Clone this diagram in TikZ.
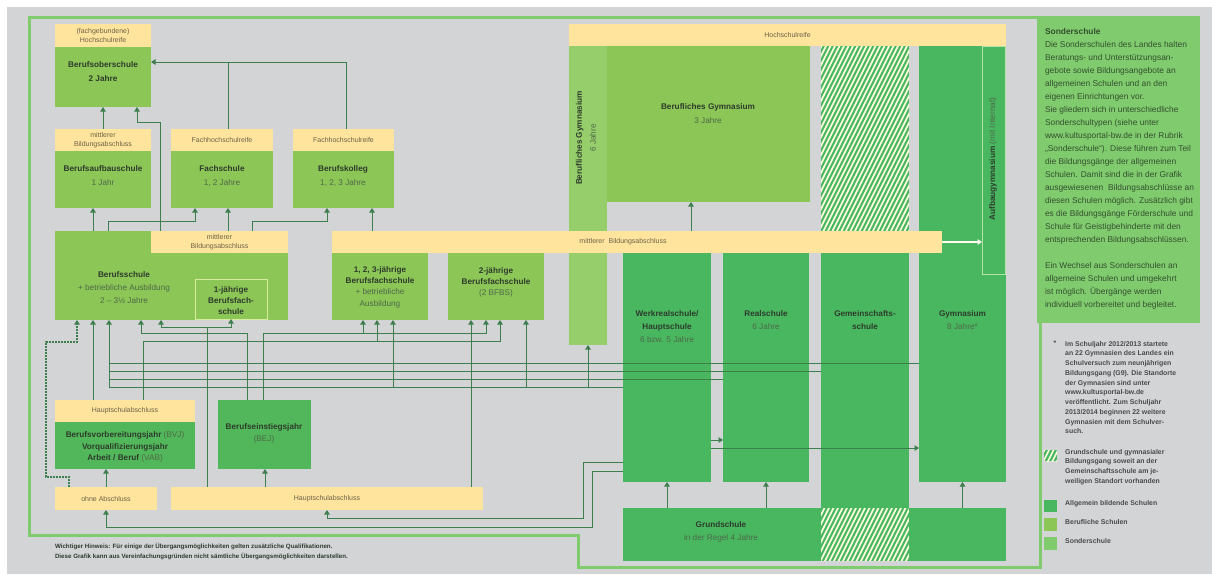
\documentclass[tikz,border=0pt]{standalone}
\usepackage{fontspec}
\setmainfont{Liberation Sans}
\usetikzlibrary{arrows.meta}

\definecolor{allg}{HTML}{48B760}
\definecolor{beruf}{HTML}{8CC657}
\definecolor{bgym}{HTML}{96CE6B}
\definecolor{sonder}{HTML}{80CB6E}
\definecolor{vorb}{HTML}{52B75A}
\definecolor{gelb}{HTML}{FEE49C}
\definecolor{hgrau}{HTML}{D3D4D6}
\definecolor{pfeil}{HTML}{3F7F4F}
\definecolor{rahmen}{HTML}{D7EC9E}
\definecolor{rahmenb}{HTML}{B5E3A5}
\definecolor{txtdark}{HTML}{2E3B2C}
\definecolor{txtsoft}{HTML}{4F6849}
\definecolor{txtlab}{HTML}{6E6249}
\definecolor{txtgrau}{HTML}{4A4A4A}
\definecolor{sotext}{HTML}{34502F}

\newcommand{\weich}[1]{{\mdseries\color{txtsoft}#1}}

\tikzset{
  kasten/.style={inner sep=0pt, outer sep=0pt, anchor=north west},
  bkasten/.style={kasten, fill=beruf},
  akasten/.style={kasten, fill=allg},
  kopf/.style={kasten, fill=gelb, text=txtlab, align=center, font=\fontsize{7}{8.5}\selectfont},
  titel/.style={inner sep=0pt, align=center, text=txtdark, font=\bfseries\fontsize{8.2}{13}\selectfont},
  eng/.style={font=\bfseries\fontsize{8.2}{11.3}\selectfont},
  weit/.style={font=\bfseries\fontsize{8.2}{14}\selectfont},
  legende/.style={inner sep=0pt, align=left, text=txtgrau, font=\bfseries\fontsize{6.9}{9.75}\selectfont},
  verb/.style={draw=pfeil, line width=0.9pt},
  punkt/.style={verb, line width=1.7pt, dash pattern=on 1.7pt off 1.3pt},
  weiss/.style={draw=white!85!gelb, line width=1.2pt},
  streifen/.style={draw=white!88!yellow, line width=1.6pt},
}

\begin{document}
\begin{tikzpicture}[x=1pt,y=-1pt,>={Triangle[length=4.5pt,width=5.5pt]}]

\useasboundingbox (0,0) rectangle (1212,574);
\fill[white] (0,0) rectangle (1212,574);
\fill[hgrau] (7,7) rectangle (1212,574);

% Rahmen und Sonderschule
\draw[sonder,line width=3pt] (1040,323) -- (1040,567) -- (578,567) -- (578,535) -- (29,535) -- (29,17) -- (1038,17);
\node[kasten,fill=sonder,minimum width=163,minimum height=307] (sonder) at (1037,16) {};
\node[kasten,align=left,text=sotext,font=\fontsize{8.4}{13}\selectfont] (sondertext) at (1045,28) {\textbf{Sonderschule}\\
Die Sonderschulen des Landes halten\\
Beratungs- und Unterstützungsan-\\
gebote sowie Bildungsangebote an\\
allgemeinen Schulen und an den\\
eigenen Einrichtungen vor.\\
Sie gliedern sich in unterschiedliche\\
Sonderschultypen (siehe unter\\
www.kultusportal-bw.de in der Rubrik\\
„Sonderschule“). Diese führen zum Teil\\
die Bildungsgänge der allgemeinen\\
Schulen. Damit sind die in der Grafik\\
ausgewiesenen\ \ Bildungsabschlüsse an\\
diesen Schulen möglich. Zusätzlich gibt\\
es die Bildungsgänge Förderschule und\\
Schule für Geistigbehinderte mit den\\
entsprechenden Bildungsabschlüssen.\\[13pt]
Ein Wechsel aus Sonderschulen an\\
allgemeine Schulen und umgekehrt\\
ist möglich. Übergänge werden\\
individuell vorbereitet und begleitet.};

% berufliche Schulen links oben
\node[kopf,minimum width=96,minimum height=23] (bosk) at (55,24) {(fachgebundene)\\Hochschulreife};
\node[bkasten,minimum width=96,minimum height=60] (bos) at (55,47) {};
\node[titel,weit] at (103,72) {Berufsoberschule\\2 Jahre};

\node[kopf,minimum width=96,minimum height=22] (bask) at (55,129) {mittlerer\\Bildungsabschluss};
\node[bkasten,minimum width=96,minimum height=57] (bas) at (55,151) {};
\node[titel,weit] at (103,176) {Berufsaufbauschule\\\weich{1 Jahr}};

\node[kopf,minimum width=102,minimum height=22] (fsk) at (171,129) {Fachhochschulreife};
\node[bkasten,minimum width=102,minimum height=57] (fs) at (171,151) {};
\node[titel,weit] at (222,176) {Fachschule\\\weich{1, 2 Jahre}};

\node[kopf,minimum width=101,minimum height=22] (bkk) at (293,129) {Fachhochschulreife};
\node[bkasten,minimum width=101,minimum height=57] (bk) at (293,151) {};
\node[titel,weit] at (343,176) {Berufskolleg\\\weich{1, 2, 3 Jahre}};

% Berufsschule
\node[bkasten,minimum width=233,minimum height=89] (bs) at (55,231) {};
\node[kopf,minimum width=137,minimum height=22] (bsk) at (151,231) {mittlerer\\Bildungsabschluss};
\node[bkasten,draw=rahmen,line width=1pt,minimum width=72,minimum height=40] (bfs1) at (195,279) {};
\node[titel] at (124,287.5) {Berufsschule\\\weich{+ betriebliche Ausbildung}\\\weich{2 – 3½ Jahre}};
\node[titel,eng] at (231,300.5) {1-jährige\\Berufsfach-\\schule};

% Berufliches Gymnasium und allgemein bildende Saeulen
\node[kopf,minimum width=437,minimum height=22] (hsr) at (569,24) {Hochschulreife};
\node[kasten,fill=bgym,minimum width=38,minimum height=299] (bg6) at (569,46) {};
\node[titel,weit,rotate=90] at (586,138) {Berufliches Gymnasium\\\weich{6 Jahre}};
\node[bkasten,minimum width=203,minimum height=156] (bg3) at (607,46) {};
\node[titel,weit] at (708,114) {Berufliches Gymnasium\\\weich{3 Jahre}};

\begin{scope}
\clip (821,46) rectangle (909,231) (821,508) rectangle (909,561);
\fill[allg] (821,46) rectangle (909,561);
\foreach \s in {540,544.5,...,895}{
  \draw[streifen] (\s,600)--({\s+300},0);
}
\end{scope}

\node[akasten,minimum width=87,minimum height=436] (gym) at (919,46) {};
\node[kasten,draw=rahmenb,line width=1pt,minimum width=23,minimum height=228] (aufbau) at (982,46) {};
\node[titel,rotate=90] at (993,159) {Aufbaugymnasium \weich{(mit Internat)}};
\node[titel] at (962.5,320) {Gymnasium\\\weich{8 Jahre*}};

\node[akasten,minimum width=88,minimum height=229] (wrs) at (623,253) {};
\node[titel] at (667,326.5) {Werkrealschule/\\Hauptschule\\\weich{6 bzw. 5 Jahre}};
\node[akasten,minimum width=86,minimum height=229] (rs) at (723,253) {};
\node[titel] at (766,320) {Realschule\\\weich{6 Jahre}};
\node[akasten,minimum width=88,minimum height=255] (gms) at (821,253) {};
\node[titel] at (865,320) {Gemeinschafts-\\schule};

\node[akasten,minimum width=198,minimum height=53] (gs) at (623,508) {};
\node[akasten,minimum width=97,minimum height=53] (gsr) at (909,508) {};
\node[titel] at (721,532) {Grundschule\\\weich{in der Regel 4 Jahre}};

% mittlerer Bildungsabschluss
\node[kopf,minimum width=610,minimum height=22] (mba) at (332,231) {};
\node[text=txtlab,font=\fontsize{7}{8.5}\selectfont] at (623,242) {mittlerer\ \ Bildungsabschluss};
\node[bkasten,minimum width=96,minimum height=67] (bfs123) at (332,253) {};
\node[titel,eng] at (380,287) {1, 2, 3-jährige\\Berufsfachschule\\\weich{+ betriebliche}\\\weich{Ausbildung}};
\node[bkasten,minimum width=96,minimum height=67] (bfs2) at (448,253) {};
\node[titel,eng] at (496,282.5) {2-jährige\\Berufsfachschule\\\weich{(2 BFBS)}};

% links unten
\node[kopf,minimum width=140,minimum height=22] (bvjk) at (55,400) {Hauptschulabschluss};
\node[kasten,fill=vorb,minimum width=140,minimum height=47] (bvj) at (55,422) {};
\node[titel,eng] at (125,447) {Berufsvorbereitungsjahr \weich{(BVJ)}\\Vorqualifizierungsjahr\\Arbeit / Beruf \weich{(VAB)}};
\node[kasten,fill=vorb,minimum width=93,minimum height=69] (bej) at (218,400) {};
\node[titel,eng] at (264,433.5) {Berufseinstiegsjahr\\\weich{(BEJ)}};
\node[kopf,minimum width=102,minimum height=23] (oa) at (55,487) {ohne Abschluss};
\node[kopf,minimum width=312,minimum height=23] (hsa) at (171,487) {Hauptschulabschluss};

% Uebergaenge oben
\draw[verb,->] (346,0 |- bkk.north) |- (bos.east |- 0,62);
\draw[verb] (228,0 |- fsk.north) -- (228,62);
\draw[verb,->] (bask) -- (bos);
\draw[verb,->] (160,0 |- bsk.north) |- (137,122) -- (137,0 |- bos.south);
\draw[verb,->] (93,0 |- bs.north) -- (93,0 |- bas.south);
\draw[verb,->] (108,0 |- bs.north) |- (195,221) -- (195,0 |- fs.south);
\draw[verb,->] (228,0 |- bsk.north) -- (228,0 |- fs.south);
\draw[verb,->] (252,0 |- bsk.north) |- (327,221) -- (327,0 |- bk.south);
\draw[verb,->] (372,0 |- mba.north) -- (372,0 |- bk.south);
\draw[verb,->] (691,0 |- mba.north) -- (691,0 |- bg3.south);
\draw[weiss,->] (mba.east) -- (aufbau.west |- mba.east);

% Uebergaenge unten
\draw[verb,->] (wrs |- gs.north) -- (wrs.south);
\draw[verb,->] (rs |- gs.north) -- (rs.south);
\draw[verb,->] (gym |- gsr.north) -- (gym.south);
\draw[verb,->] (wrs.east |- 0,440) -- (rs.west |- 0,440);
\draw[verb,->] (wrs.east |- 0,448) -- (gym.west |- 0,448);

\draw[verb] (gym.west |- 0,363) -- (109,363);
\draw[verb] (gms.west |- 0,371) -- (109,371);
\draw[verb] (rs.west |- 0,379) -- (109,379);
\draw[verb,->] (wrs.west |- 0,387) -| (109,0 |- bs.south);
\draw[verb,->] (393,387) -- (393,0 |- bfs123.south);
\draw[verb,->] (526,387) -- (526,0 |- bfs2.south);
\draw[verb,->] (bg6 |- 0,387) -- (bg6.south);

\draw[verb,->] (93,0 |- bvjk.north) -- (93,0 |- bs.south);
\draw[verb,->] (143,0 |- bvjk.north) |- (500,341) -- (500,0 |- bfs2.south);
\draw[verb,->] (377,341) -- (377,0 |- bfs123.south);
\draw[verb,->] (263,0 |- bej.north) |- (486,333) -- (486,0 |- bfs2.south);
\draw[verb,->] (363,333) -- (363,0 |- bfs123.south);
\draw[verb,->] (247,0 |- bej.north) |- (141,333) -- (141,0 |- bs.south);
\draw[verb,->] (207,0 |- hsa.north) |- (161,327) -- (161,0 |- bs.south);
\draw[verb,->] (207,327) -| (231,0 |- bfs1.south);
\draw[verb,->] (471,0 |- hsa.north) -- (471,0 |- bfs2.south);
\draw[punkt,->] (69,0 |- oa.north) -- (69,477) -| (46,342) -| (77,0 |- bs.south);
\draw[verb,->] (106,0 |- oa.north) -- (106,0 |- bvj.south);
\draw[verb,->] (265,0 |- hsa.north) -- (265,0 |- bej.south);
\draw[verb,->] (wrs.west |- 0,462) -| (583,518) -| (327,0 |- hsa.south);
\draw[verb,->] (wrs.west |- 0,471) -| (592,527) -| (106,0 |- oa.south);

% Hinweis
\node[kasten,align=left,text=txtdark,font=\bfseries\fontsize{6.2}{10}\selectfont] at (55,543.5) {Wichtiger Hinweis: Für einige der Übergangsmöglichkeiten gelten zusätzliche Qualifikationen.\\Diese Grafik kann aus Vereinfachungsgründen nicht sämtliche Übergangsmöglichkeiten darstellen.};

% Legende
\node[legende,anchor=north] at (1055,341) {*};
\node[legende,anchor=north west] at (1065,341) {Im Schuljahr 2012/2013 startete\\an 22 Gymnasien des Landes ein\\Schulversuch zum neunjährigen\\Bildungsgang (G9). Die Standorte\\der Gymnasien sind unter\\www.kultusportal-bw.de\\veröffentlicht. Zum Schuljahr\\2013/2014 beginnen 22 weitere\\Gymnasien mit dem Schulver-\\such.};
\begin{scope}
\clip (1044,450) rectangle (1057,461);
\fill[allg] (1044,450) rectangle (1057,461);
\foreach \s in {1030,1034.5,...,1060}{
  \draw[streifen] (\s,470)--({\s+15},440);
}
\end{scope}
\node[legende,anchor=north west] at (1065,449) {Grundschule und gymnasialer\\Bildungsgang soweit an der\\Gemeinschaftsschule am je-\\weiligen Standort vorhanden};
\fill[allg] (1044,500) rectangle (1057,512);
\node[legende,anchor=base west] at (1065,505) {Allgemein bildende Schulen};
\fill[beruf] (1044,518) rectangle (1057,531);
\node[legende,anchor=base west] at (1065,524) {Berufliche Schulen};
\fill[sonder] (1044,537) rectangle (1057,550);
\node[legende,anchor=base west] at (1065,543) {Sonderschule};

\end{tikzpicture}
\end{document}
